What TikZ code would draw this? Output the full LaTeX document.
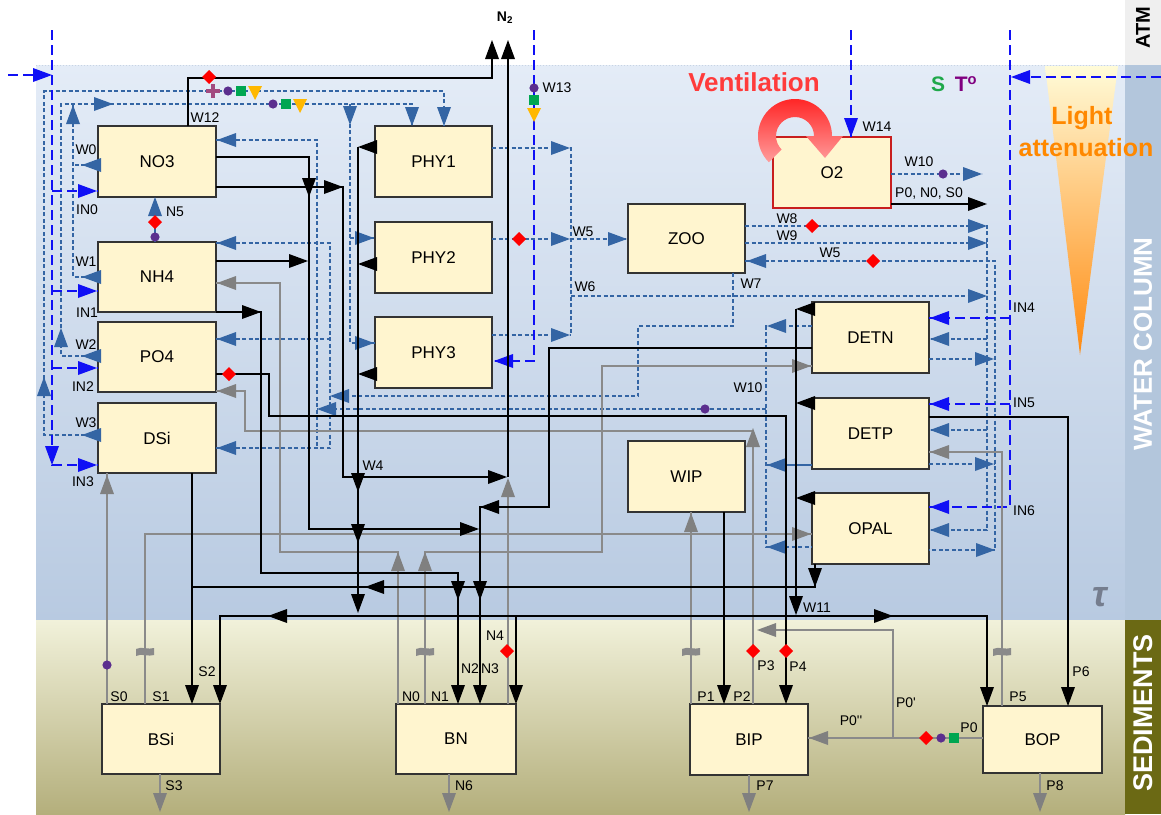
\documentclass[tikz,border=0pt]{standalone}
\usepackage{fontspec}
\setmainfont{Liberation Sans}
\usetikzlibrary{calc}
\definecolor{boxfill}{HTML}{FFF5CF}
\definecolor{boxline}{HTML}{333333}
\definecolor{sblue}{HTML}{3465A4}
\definecolor{bblue}{HTML}{1010F5}
\definecolor{lgray}{HTML}{8A8A8A}
\definecolor{agray}{HTML}{808080}
\definecolor{mred}{HTML}{FF0000}
\definecolor{mpurple}{HTML}{5B2E8E}
\definecolor{mgreen}{HTML}{00A651}
\definecolor{morange}{HTML}{FFB800}
\definecolor{mplus}{HTML}{A24A80}
\definecolor{wtop}{HTML}{E4ECF7}
\definecolor{wbot}{HTML}{B8CAE1}
\definecolor{stop}{HTML}{F1F1DA}
\definecolor{sbot}{HTML}{B4AF7C}
\definecolor{atmstrip}{HTML}{EFEFEF}
\definecolor{wstrip}{HTML}{B3C6DC}
\definecolor{sedstrip}{HTML}{6B6914}
\definecolor{ventA}{HTML}{FF2020}
\definecolor{ventB}{HTML}{FF9C9C}
\definecolor{venttxt}{HTML}{FF3B3B}
\definecolor{lighttxt}{HTML}{FF8800}
\definecolor{lightA}{HTML}{FFFBD8}
\definecolor{lightB}{HTML}{FF8A10}
\definecolor{taugray}{HTML}{757D8E}
\definecolor{sgreen}{HTML}{1FA84A}
\definecolor{tpurple}{HTML}{800080}
\definecolor{topline}{HTML}{C8D4E4}
% arrow heads (tip at given point)
\newcommand{\arrR}[3]{\fill[#1] (#2,#3) -- ++(-19,-7) -- ++(0,14) -- cycle;}
\newcommand{\arrL}[3]{\fill[#1] (#2,#3) -- ++(19,-7) -- ++(0,14) -- cycle;}
\newcommand{\arrU}[3]{\fill[#1] (#2,#3) -- ++(-7,19) -- ++(14,0) -- cycle;}
\newcommand{\arrD}[3]{\fill[#1] (#2,#3) -- ++(-7,-19) -- ++(14,0) -- cycle;}
% markers
\newcommand{\mkdia}[2]{\fill[mred] (#1,#2) ++(-7,0) -- ++(7,-7) -- ++(7,7) -- ++(-7,7) -- cycle;}
\newcommand{\mkdot}[2]{\fill[mpurple] (#1,#2) circle[radius=4.6];}
\newcommand{\mksq}[2]{\fill[mgreen] (#1,#2) ++(-4.7,-4.7) rectangle ++(9.4,9.4);}
\newcommand{\mktri}[2]{\fill[morange] (#1,#2) ++(-7,-6) -- ++(14,0) -- ++(-7,14) -- cycle;}
\newcommand{\mkplus}[2]{\fill[mplus] (#1,#2) ++(-7,-2.3) rectangle ++(14,4.6); \fill[mplus] (#1,#2) ++(-2.3,-7) rectangle ++(4.6,14);}
\newcommand{\mkbrk}[2]{\fill[lgray] (#1,#2) ++(-9,-3) .. controls ++(5,-3) and ++(-5,2) .. ++(18,-1) -- ++(0,7) .. controls ++(-5,2) and ++(5,-3) .. ++(-18,1) -- cycle;}
\begin{document}
\begin{tikzpicture}[x=1pt,y=-1pt,
  box/.style={draw=boxline, fill=boxfill, line width=1.5pt, inner sep=0pt, outer sep=0pt, font=\fontsize{17}{20}\selectfont},
  lab/.style={font=\fontsize{14}{16}\selectfont, inner sep=0pt},
  blk/.style={draw=black, line width=1.6pt},
  gry/.style={draw=lgray, line width=1.6pt},
  sbd/.style={draw=sblue, line width=1.2pt, dash pattern=on 4pt off 2.5pt},
  sbs/.style={draw=sblue, line width=1.2pt},
  bbd/.style={draw=bblue, line width=1.6pt, dash pattern=on 10pt off 5pt}]
\useasboundingbox (0,0) rectangle (1161,814);
% ---------- backgrounds ----------
\fill[white] (0,0) rectangle (1161,814);
\shade[top color=wtop, bottom color=wbot] (36,65) rectangle (1125,620);
\shade[top color=stop, bottom color=sbot] (36,620) rectangle (1125,814);
\fill[atmstrip] (1125,0) rectangle (1161,65);
\fill[wstrip] (1125,65) rectangle (1161,620);
\fill[sedstrip] (1125,620) rectangle (1161,814);
\draw[topline, line width=1pt, dotted] (36,65) -- (1125,65);
\node[rotate=90, font=\bfseries\fontsize{20}{22}\selectfont, inner sep=0pt] (atm) at (1143,28) {ATM};
\node[rotate=90, text=white, font=\bfseries\fontsize{26}{28}\selectfont, inner sep=0pt] (wcol) at (1143,344) {WATER COLUMN};
\node[rotate=90, text=white, font=\bfseries\fontsize{27}{28}\selectfont, inner sep=0pt] (sedl) at (1143,713) {SEDIMENTS};
% light attenuation
\shade[top color=lightA, bottom color=lightB] (1045,66) -- (1118,66) -- (1080,355) -- cycle;
\node[text=lighttxt, font=\bfseries\fontsize{25}{28}\selectfont, inner sep=0pt] (light1) at (1082,118) {Light};
\node[text=lighttxt, font=\bfseries\fontsize{25}{28}\selectfont, inner sep=0pt] (light2) at (1086,148) {attenuation};
\node[text=venttxt, font=\bfseries\fontsize{26}{28}\selectfont, inner sep=0pt] (vent) at (754,82) {Ventilation};
\node[text=sgreen, font=\bfseries\fontsize{21}{24}\selectfont, inner sep=0pt] (sal) at (938,84) {S};
\node[text=tpurple, font=\bfseries\fontsize{21}{24}\selectfont, inner sep=0pt] (temp) at (966,84) {T\textsuperscript{o}};
\node[text=taugray, font=\bfseries\itshape\fontsize{36}{38}\selectfont, inner sep=0pt] (tau) at (1100,597) {τ};
\node[font=\bfseries\fontsize{14}{16}\selectfont, inner sep=0pt] (ntwo) at (505,18) {N\textsubscript{2}};
% ---------- boxes ----------
\node[box, minimum width=118pt, minimum height=71pt] (NO3) at (157,161.5) {NO3};
\node[box, minimum width=118pt, minimum height=70pt] (NH4) at (157,277) {NH4};
\node[box, minimum width=118pt, minimum height=70pt] (PO4) at (157,357) {PO4};
\node[box, minimum width=118pt, minimum height=70pt] (DSi) at (157,438) {DSi};
\node[box, minimum width=117pt, minimum height=71pt] (PHY1) at (433.5,161.5) {PHY1};
\node[box, minimum width=117pt, minimum height=71pt] (PHY2) at (433.5,257.5) {PHY2};
\node[box, minimum width=117pt, minimum height=71pt] (PHY3) at (433.5,352.5) {PHY3};
\node[box, minimum width=117pt, minimum height=69pt] (ZOO) at (686.5,238.5) {ZOO};
\node[box, draw={rgb,255:red,200;green,30;blue,30}, line width=2pt, minimum width=118pt, minimum height=71pt] (O2) at (832,172.5) {O2};
\node[box, minimum width=117pt, minimum height=71pt] (DETN) at (870.5,337.5) {DETN};
\node[box, minimum width=117pt, minimum height=71pt] (DETP) at (870.5,433.5) {DETP};
\node[box, minimum width=117pt, minimum height=71pt] (OPAL) at (870.5,528.5) {OPAL};
\node[box, minimum width=117pt, minimum height=71pt] (WIP) at (686.5,476.5) {WIP};
\node[box, minimum width=118pt, minimum height=70pt] (BSi) at (161,739) {BSi};
\node[box, minimum width=120pt, minimum height=70pt] (BN) at (456,739) {BN};
\node[box, minimum width=118pt, minimum height=71pt] (BIP) at (749,739.5) {BIP};
\node[box, minimum width=119pt, minimum height=67pt] (BOP) at (1042.5,739.5) {BOP};
% ---------- steel-blue dashed fluxes ----------
\draw[sbd] (DSi.west |- 0,435) -- (44,435) -- (44,91) -- (444,91) -- (PHY1.north -| 444,0);
\arrL{sblue}{82}{435} \arrU{sblue}{44}{377} \arrD{sblue}{444}{126}
\draw[sbd] (PO4.west |- 0,356) -- (61,356) -- (61,104) -- (412,104) -- (PHY1.north -| 412,0);
\draw[sbd] (350,104) -- (350,343) -- (PHY3.west |- 0,343);
\draw[sbd] (350,238) -- (PHY2.west |- 0,238);
\arrL{sblue}{82}{356} \arrU{sblue}{61}{328} \arrR{sblue}{113}{104} \arrD{sblue}{412}{126}
\arrD{sblue}{350}{125} \arrR{sblue}{374}{238} \arrR{sblue}{374}{343}
\draw[sbd] (NO3.west |- 0,165) -- (73,165);
\draw[sbd] (NH4.west |- 0,277) -- (73,277) -- (73,104);
\arrL{sblue}{82}{165} \arrL{sblue}{82}{277} \arrU{sblue}{73}{105}
\mkplus{213}{91} \mkdot{228}{91} \mksq{241}{91} \mktri{255}{92}
\mkdot{273}{104} \mksq{286}{104} \mktri{300}{105}
% N5
\draw[sbs] (NH4.north -| 155,0) -- (155,210);
\arrU{sblue}{155}{197} \mkdia{155}{222} \mkdot{155}{237}
% phytoplankton outputs
\draw[sbd] (PHY1.east |- 0,148) -- (571,148) -- (571,335);
\draw[sbd] (PHY2.east |- 0,239) -- (ZOO.west |- 0,239);
\draw[sbd] (PHY3.east |- 0,335) -- (571,335);
\draw[sbd] (571,296) -- (987,296);
\arrR{sblue}{570}{148} \arrR{sblue}{570}{239} \arrR{sblue}{570}{335} \arrR{sblue}{627}{239} \arrR{sblue}{987}{296}
\mkdia{519}{239}
% zooplankton outputs
\draw[sbd] (ZOO.east |- 0,226) -- (987,226) -- (987,530) -- (OPAL.east |- 0,530);
\draw[sbd] (ZOO.east |- 0,243) -- (987,243);
\draw[sbd] (987,339) -- (DETN.east |- 0,339);
\draw[sbd] (987,430) -- (DETP.east |- 0,430);
\arrR{sblue}{987}{226} \arrR{sblue}{987}{243} \arrL{sblue}{930}{339} \arrL{sblue}{930}{430} \arrL{sblue}{930}{530}
\mkdia{812}{226}
\draw[sbd] (ZOO.east |- 0,261) -- (995,261) -- (995,550) -- (OPAL.east |- 0,550);
\draw[sbd] (DETN.east |- 0,359) -- (995,359);
\draw[sbd] (DETP.east |- 0,464) -- (995,464);
\arrL{sblue}{747}{261} \arrR{sblue}{994}{359} \arrR{sblue}{994}{464} \arrR{sblue}{995}{550}
\mkdia{873}{261}
% W7
\draw[sbd] (ZOO.south -| 733,0) -- (733,326) -- (638,326) -- (638,396) -- (330,396);
\arrL{sblue}{330}{396}
% W10 remineralisation
\draw[sbd] (DETN.west |- 0,326) -- (766,326) -- (766,547) -- (OPAL.west |- 0,547);
\draw[sbs] (DETP.west |- 0,465) -- (766,465);
\draw[sbd] (766,409) -- (317,409);
\arrL{sblue}{767}{326} \arrL{sblue}{767}{465} \arrL{sblue}{767}{547} \arrL{sblue}{317}{409}
\mkdot{705}{409}
% returns to nutrients
\draw[sbd] (NO3.east |- 0,140) -- (317,140) -- (317,448);
\draw[sbd] (NH4.east |- 0,243) -- (330,243) -- (330,448) -- (DSi.east |- 0,448);
\draw[sbd] (PO4.east |- 0,339) -- (330,339);
\arrL{sblue}{217}{140} \arrL{sblue}{217}{243} \arrL{sblue}{217}{339} \arrL{sblue}{217}{448}
% O2 W10
\draw[sbd] (O2.east |- 0,174) -- (982,174);
\arrR{sblue}{982}{174} \mkdot{943}{174}
% ---------- bright-blue external inputs ----------
\draw[bbd] (8,75) -- (52,75); \arrR{bblue}{52}{75}
\draw[bbd] (52,30) -- (52,465) -- (DSi.west |- 0,465);
\arrD{bblue}{52}{465} \arrR{bblue}{97}{465}
\draw[bbd] (52,191) -- (NO3.west |- 0,191); \arrR{bblue}{97}{191}
\draw[bbd] (52,291) -- (NH4.west |- 0,291); \arrR{bblue}{97}{291}
\draw[bbd] (52,368) -- (PO4.west |- 0,368); \arrR{bblue}{97}{368}
\draw[bbd] (534,30) -- (534,361) -- (PHY3.east |- 0,361); \arrL{bblue}{494}{361}
\mkdot{534}{88} \mksq{534}{100} \mktri{534}{114}
\draw[bbd] (851,30) -- (O2.north -| 851,0); \arrD{bblue}{851}{137}
\draw[bbd] (1161,77) -- (1010,77); \arrL{bblue}{1011}{77}
\draw[bbd] (1010,30) -- (1010,507) -- (OPAL.east |- 0,507); \arrL{bblue}{930}{507}
\draw[bbd] (1010,318) -- (DETN.east |- 0,318); \arrL{bblue}{930}{318}
\draw[bbd] (1010,404) -- (DETP.east |- 0,404); \arrL{bblue}{930}{404}
% ---------- grey (sediment) fluxes ----------
\draw[gry] (BSi.north -| 107,0) -- (DSi.south -| 107,0); \arrU{agray}{107}{475} \mkdot{107}{665}
\draw[gry] (BSi.north -| 145,0) -- (145,534) -- (OPAL.west |- 0,534); \arrR{agray}{811}{534} \mkbrk{145}{652}
\draw[gry] (BN.north -| 398,0) -- (398,552) -- (280,552) -- (280,283) -- (NH4.east |- 0,283);
\arrU{agray}{398}{552} \arrL{agray}{217}{283}
\draw[gry] (BN.north -| 425,0) -- (425,552) -- (602,552) -- (602,366) -- (DETN.west |- 0,366);
\arrU{agray}{425}{552} \arrR{agray}{811}{366} \mkbrk{425}{652}
\draw[gry] (BN.north -| 508,0) -- (508,482); \arrU{agray}{508}{478} \mkdia{507}{651}
\draw[gry] (BIP.north -| 691,0) -- (WIP.south -| 691,0); \arrU{agray}{691}{513} \mkbrk{691}{652}
\draw[gry] (BIP.north -| 753,0) -- (753,431) -- (245,431) -- (245,391) -- (PO4.east |- 0,391);
\arrU{agray}{753}{428} \arrL{agray}{217}{391} \mkdia{753}{651}
\draw[gry] (BOP.west |- 0,738) -- (BIP.east |- 0,738); \arrL{agray}{809}{738}
\mkdia{926}{738} \mkdot{941}{738} \mksq{954}{738}
\draw[gry] (893,738) -- (893,630) -- (760,630); \arrL{agray}{757}{630}
\draw[gry] (BOP.north -| 1002,0) -- (1002,452) -- (DETP.east |- 0,452); \arrL{agray}{930}{452} \mkbrk{1002}{652}
\draw[gry] (BSi.south -| 160,0) -- (160,800); \arrD{agray}{160}{812}
\draw[gry] (BN.south -| 449,0) -- (449,800); \arrD{agray}{449}{812}
\draw[gry] (BIP.south -| 749,0) -- (749,800); \arrD{agray}{749}{812}
\draw[gry] (BOP.south -| 1040,0) -- (1040,800); \arrD{agray}{1040}{812}
% ---------- black fluxes ----------
\draw[blk] (NO3.north -| 188,0) -- (188,78) -- (492,78) -- (492,50); \arrU{black}{492}{40} \mkdia{209}{77}
\draw[blk] (508,477) -- (508,50); \arrU{black}{508}{40}
\draw[blk] (NO3.east |- 0,157) -- (309,157) -- (309,529) -- (470,529);
\arrD{black}{309}{197} \arrR{black}{479}{529}
\draw[blk] (NO3.east |- 0,187) -- (343,187) -- (343,477) -- (500,477);
\arrR{black}{343}{187} \arrR{black}{507}{477}
\draw[blk] (NH4.east |- 0,261) -- (300,261); \arrR{black}{308}{261}
\draw[blk] (NH4.east |- 0,312) -- (261,312) -- (261,573) -- (458,573) -- (458,690);
\arrR{black}{261}{312} \arrD{black}{458}{600} \arrD{black}{458}{704}
\draw[blk] (PO4.east |- 0,374) -- (269,374) -- (269,416) -- (786,416) -- (786,690);
\arrD{black}{786}{704} \mkdia{229}{374} \mkdia{786}{651}
\draw[blk] (358,147) -- (358,605);
\arrL{black}{358}{147} \arrL{black}{358}{264} \arrL{black}{358}{374}
\arrD{black}{358}{492} \arrD{black}{358}{543} \arrD{black}{358}{613}
\draw[blk] (DSi.south -| 192,0) -- (192,690); \arrD{black}{192}{704}
\draw[blk] (OPAL.south -| 815,0) -- (815,587) -- (192,587);
\arrD{black}{815}{587} \arrL{black}{365}{587}
\draw[blk] (220,690) -- (220,616) -- (987,616) -- (987,690);
\draw[blk] (516,616) -- (516,690);
\arrD{black}{220}{704} \arrL{black}{268}{616} \arrR{black}{893}{616} \arrD{black}{987}{706} \arrD{black}{516}{704}
\draw[blk] (796,309) -- (796,605);
\arrL{black}{796}{309} \arrL{black}{796}{403} \arrL{black}{796}{498} \arrD{black}{796}{615}
\draw[blk] (DETN.west |- 0,348) -- (549,348) -- (549,507) -- (480,507) -- (480,690);
\arrL{black}{480}{507} \arrD{black}{480}{600} \arrD{black}{480}{704}
\draw[blk] (WIP.south -| 724,0) -- (724,690); \arrD{black}{724}{704}
\draw[blk] (DETP.east |- 0,417) -- (1068,417) -- (1068,690); \arrD{black}{1068}{706}
\draw[blk] (O2.east |- 0,204) -- (980,204); \arrR{black}{987}{204}
% ---------- ventilation arrow ----------
\shade[top color=ventA, bottom color=ventB]
  (795,136) ++(135:37) arc[start angle=135, end angle=360, radius=37]
  -- (843,136) -- (825,158) -- (806,136) -- (814,136)
  arc[start angle=360, end angle=135, radius=19] -- cycle;
% ---------- labels ----------
\node[lab] (lW12) at (205,118) {W12};
\node[lab] (lW0) at (86,150) {W0};
\node[lab] (lIN0) at (87,210) {IN0};
\node[lab] (lN5) at (175,212) {N5};
\node[lab] (lW1) at (86,262) {W1};
\node[lab] (lIN1) at (87,313) {IN1};
\node[lab] (lW2) at (86,345) {W2};
\node[lab] (lIN2) at (83,387) {IN2};
\node[lab] (lW3) at (86,423) {W3};
\node[lab] (lIN3) at (83,482) {IN3};
\node[lab] (lW13) at (557,88) {W13};
\node[lab] (lW14) at (877,127) {W14};
\node[lab] (lW10a) at (919,162) {W10};
\node[lab] (lPNS) at (929,194) {P0, N0, S0};
\node[lab] (lW8) at (787,219) {W8};
\node[lab] (lW9) at (787,236) {W9};
\node[lab] (lW5b) at (830,253) {W5};
\node[lab] (lW5a) at (583,232) {W5};
\node[lab] (lW6) at (585,287) {W6};
\node[lab] (lW7) at (751,284) {W7};
\node[lab] (lW10b) at (748,388) {W10};
\node[lab] (lIN4) at (1024,308) {IN4};
\node[lab] (lIN5) at (1024,403) {IN5};
\node[lab] (lIN6) at (1024,511) {IN6};
\node[lab] (lW4) at (373,466) {W4};
\node[lab] (lW11) at (817,608) {W11};
\node[lab] (lS0) at (119,697) {S0};
\node[lab] (lS1) at (161,697) {S1};
\node[lab] (lS2) at (207,672) {S2};
\node[lab] (lS3) at (174,786) {S3};
\node[lab] (lN0) at (411,697) {N0};
\node[lab] (lN1) at (440,697) {N1};
\node[lab] (lN2) at (470,669) {N2};
\node[lab] (lN3) at (490,669) {N3};
\node[lab] (lN4) at (495,636) {N4};
\node[lab] (lN6) at (464,786) {N6};
\node[lab] (lP1) at (706,697) {P1};
\node[lab] (lP2) at (742,697) {P2};
\node[lab] (lP3) at (766,666) {P3};
\node[lab] (lP4) at (798,667) {P4};
\node[lab] (lP5) at (1018,697) {P5};
\node[lab] (lP6) at (1081,672) {P6};
\node[lab] (lP7) at (765,786) {P7};
\node[lab] (lP8) at (1055,786) {P8};
\node[lab] (lP0) at (969,728) {P0};
\node[lab] (lP0b) at (851,721) {P0\textquotesingle\textquotesingle};
\node[lab] (lP0a) at (906,703) {P0\textquotesingle};
\end{tikzpicture}
\end{document}
